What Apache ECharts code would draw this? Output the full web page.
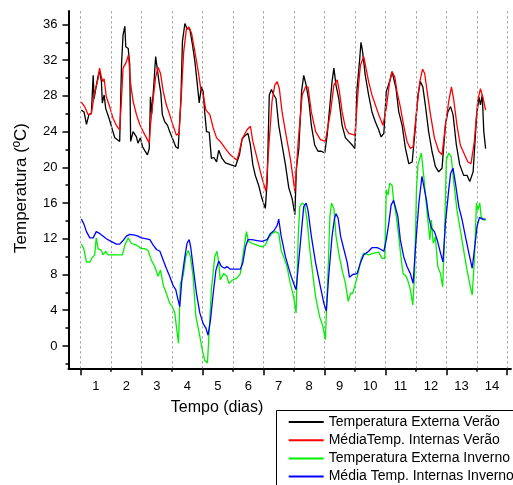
<!DOCTYPE html>
<html>
<head>
<meta charset="utf-8">
<script src="https://cdn.jsdelivr.net/npm/echarts@6/dist/echarts.min.js"></script>
<style>
  html, body { margin: 0; padding: 0; background: #fff; }
  #chart { width: 513px; height: 485px; }
</style>
</head>
<body>
<div id="chart"></div>
<script>
// [dia, temperatura]
var extVerao = [[0.02,26.4],[0.11,26.2],[0.19,24.8],[0.27,25.9],[0.35,26.0],[0.41,30.3],[0.44,27.7],[0.49,28.7],[0.57,30.2],[0.62,30.8],[0.68,29.6],[0.71,27.2],[0.77,28.1],[0.82,26.6],[0.93,25.5],[1.04,24.2],[1.12,23.3],[1.17,23.2],[1.28,22.9],[1.34,31.5],[1.39,34.8],[1.45,35.8],[1.48,33.5],[1.56,33.3],[1.61,31.5],[1.64,22.9],[1.72,24.0],[1.83,23.4],[1.88,22.7],[1.96,23.3],[2.03,22.3],[2.10,21.9],[2.19,21.4],[2.25,22.1],[2.29,27.9],[2.33,26.0],[2.40,29.2],[2.46,32.4],[2.52,32.2],[2.57,29.6],[2.63,28.3],[2.68,25.9],[2.76,25.1],[2.85,24.7],[2.92,24.0],[3.03,23.1],[3.12,22.3],[3.20,22.1],[3.29,27.7],[3.34,34.1],[3.42,36.1],[3.49,35.5],[3.58,35.5],[3.67,33.7],[3.75,31.8],[3.83,29.2],[3.89,27.2],[3.96,29.0],[4.02,28.5],[4.07,26.2],[4.13,24.0],[4.22,23.9],[4.29,21.0],[4.37,21.1],[4.46,20.6],[4.53,21.9],[4.64,21.0],[4.75,20.5],[4.91,20.3],[5.08,20.1],[5.13,19.9],[5.21,21.4],[5.30,23.2],[5.41,23.6],[5.49,23.8],[5.57,22.5],[5.65,20.3],[5.73,19.1],[5.84,18.0],[5.95,16.5],[6.06,15.4],[6.12,18.4],[6.19,28.1],[6.26,28.7],[6.34,28.1],[6.41,27.7],[6.50,24.7],[6.61,22.5],[6.72,20.3],[6.83,17.7],[6.94,16.5],[7.03,14.7],[7.08,19.9],[7.16,22.1],[7.25,28.5],[7.32,30.3],[7.40,29.2],[7.49,27.4],[7.57,24.7],[7.68,22.5],[7.79,21.8],[7.90,21.8],[8.01,21.6],[8.09,23.6],[8.18,27.0],[8.25,29.6],[8.31,31.1],[8.38,29.2],[8.47,27.7],[8.58,24.7],[8.69,23.3],[8.80,22.9],[8.91,22.5],[9.00,22.1],[9.07,28.8],[9.15,31.8],[9.20,34.0],[9.25,33.0],[9.34,30.3],[9.45,28.1],[9.56,26.2],[9.67,25.1],[9.78,24.2],[9.86,23.4],[9.95,23.8],[10.03,28.5],[10.14,29.6],[10.22,30.7],[10.27,30.0],[10.35,28.8],[10.44,26.2],[10.55,24.7],[10.66,22.1],[10.77,20.4],[10.88,20.6],[10.99,24.7],[11.07,28.1],[11.15,29.6],[11.23,29.0],[11.31,27.0],[11.42,24.0],[11.53,21.8],[11.64,20.1],[11.75,19.5],[11.86,19.9],[11.97,24.7],[12.05,26.2],[12.14,26.8],[12.22,25.9],[12.33,22.5],[12.44,20.3],[12.57,19.1],[12.68,19.1],[12.77,18.4],[12.88,19.5],[12.99,25.5],[13.07,27.9],[13.12,27.0],[13.18,28.1],[13.23,24.0],[13.29,22.1]];

var intVerao = [[0.02,27.3],[0.13,26.8],[0.24,25.9],[0.35,26.0],[0.46,28.4],[0.57,29.9],[0.62,31.1],[0.68,30.1],[0.73,29.6],[0.77,29.9],[0.84,27.9],[0.95,26.8],[1.06,25.5],[1.17,24.7],[1.28,24.2],[1.34,27.7],[1.39,31.1],[1.50,31.8],[1.57,32.6],[1.63,29.6],[1.72,27.4],[1.83,25.9],[1.94,24.8],[2.05,24.0],[2.16,23.3],[2.25,22.7],[2.29,24.7],[2.38,27.7],[2.46,30.1],[2.54,31.2],[2.62,30.5],[2.71,28.5],[2.81,27.0],[2.92,25.9],[3.03,24.7],[3.14,23.6],[3.23,23.8],[3.31,28.5],[3.38,32.9],[3.47,35.5],[3.55,35.7],[3.64,35.0],[3.75,32.9],[3.86,30.7],[3.94,28.8],[4.02,28.1],[4.11,26.4],[4.24,25.9],[4.35,24.4],[4.46,23.3],[4.58,22.9],[4.75,22.1],[4.91,21.4],[5.13,20.8],[5.21,21.8],[5.30,23.2],[5.46,24.2],[5.57,24.6],[5.65,22.9],[5.79,21.0],[5.95,18.8],[6.08,17.3],[6.17,22.1],[6.28,27.4],[6.37,29.2],[6.45,29.6],[6.52,28.8],[6.61,26.2],[6.74,23.6],[6.88,21.0],[7.03,17.3],[7.14,22.9],[7.27,28.1],[7.38,29.0],[7.46,29.0],[7.57,26.2],[7.71,24.0],[7.87,23.1],[8.03,22.9],[8.20,26.2],[8.31,29.2],[8.42,29.8],[8.49,28.5],[8.58,26.2],[8.69,24.4],[8.80,23.8],[9.00,23.6],[9.11,28.8],[9.18,31.4],[9.29,32.4],[9.34,32.2],[9.45,29.6],[9.56,28.1],[9.67,27.0],[9.78,25.9],[9.92,24.7],[10.03,26.6],[10.14,29.6],[10.22,30.7],[10.31,30.1],[10.38,28.5],[10.49,26.8],[10.60,24.7],[10.71,22.9],[10.82,22.1],[10.91,22.3],[11.02,26.2],[11.13,29.6],[11.22,31.0],[11.29,30.5],[11.37,28.5],[11.48,25.9],[11.61,23.3],[11.75,21.8],[11.86,21.4],[11.97,24.7],[12.08,27.4],[12.17,29.0],[12.25,27.4],[12.35,24.7],[12.46,22.5],[12.60,21.4],[12.71,20.6],[12.81,20.4],[12.92,22.9],[13.03,27.4],[13.12,28.8],[13.21,27.7],[13.29,26.4]];

var extInverno = [[0.02,11.4],[0.10,10.9],[0.19,9.4],[0.30,9.4],[0.38,9.9],[0.46,10.2],[0.51,12.1],[0.57,10.9],[0.68,10.7],[0.73,10.2],[0.82,10.6],[0.90,10.2],[1.06,10.2],[1.23,10.2],[1.37,10.2],[1.45,11.3],[1.56,12.1],[1.66,11.5],[1.83,11.3],[1.99,10.9],[2.10,10.9],[2.21,10.7],[2.32,9.6],[2.43,8.9],[2.54,7.8],[2.62,8.5],[2.71,6.8],[2.81,5.9],[2.92,4.8],[3.01,4.4],[3.09,3.7],[3.14,2.2],[3.21,0.3],[3.27,7.0],[3.36,7.8],[3.45,10.0],[3.53,10.7],[3.60,10.0],[3.69,7.8],[3.78,3.3],[3.91,1.1],[4.00,-0.6],[4.07,-1.6],[4.16,-1.9],[4.22,1.8],[4.29,6.3],[4.40,10.0],[4.47,10.6],[4.53,9.4],[4.58,7.4],[4.69,8.1],[4.80,7.8],[4.86,7.0],[4.99,7.4],[5.13,7.6],[5.24,8.1],[5.35,10.7],[5.44,12.8],[5.51,11.7],[5.62,11.5],[5.79,11.3],[5.95,11.1],[6.06,11.3],[6.17,12.1],[6.28,12.6],[6.39,12.8],[6.50,12.6],[6.58,10.7],[6.66,10.0],[6.77,8.9],[6.88,7.0],[6.99,5.5],[7.07,3.7],[7.14,12.3],[7.19,15.6],[7.27,16.0],[7.35,15.8],[7.43,14.1],[7.51,11.1],[7.60,8.5],[7.71,5.5],[7.84,3.3],[7.95,2.2],[8.03,0.7],[8.12,8.5],[8.18,14.5],[8.23,16.0],[8.31,15.4],[8.38,12.3],[8.47,10.4],[8.58,8.5],[8.69,7.0],[8.78,5.0],[8.86,5.9],[8.93,5.9],[9.02,7.0],[9.13,8.5],[9.20,9.7],[9.29,10.4],[9.45,10.2],[9.62,10.4],[9.78,10.5],[9.89,9.8],[9.98,9.8],[10.03,17.5],[10.09,16.9],[10.14,18.2],[10.22,18.0],[10.27,16.3],[10.36,14.5],[10.44,12.2],[10.51,10.0],[10.58,8.1],[10.66,7.9],[10.73,7.4],[10.82,6.3],[10.90,4.6],[10.96,8.1],[11.02,17.5],[11.07,20.3],[11.13,20.5],[11.18,21.6],[11.26,19.0],[11.37,14.9],[11.46,11.9],[11.51,14.1],[11.57,11.5],[11.64,12.2],[11.72,8.9],[11.81,8.1],[11.88,6.6],[11.94,11.9],[12.00,20.8],[12.08,21.6],[12.16,21.2],[12.25,18.2],[12.35,15.2],[12.46,13.0],[12.57,10.7],[12.68,8.5],[12.79,6.6],[12.85,5.7],[12.92,9.6],[12.99,16.0],[13.03,15.2],[13.10,16.0],[13.14,14.5],[13.23,14.1],[13.29,14.1]];

var intInverno = [[0.02,14.2],[0.10,13.7],[0.19,12.8],[0.30,12.1],[0.41,12.1],[0.51,12.8],[0.62,12.6],[0.73,12.3],[0.84,12.0],[0.95,11.8],[1.06,11.6],[1.17,11.4],[1.28,11.4],[1.39,11.8],[1.50,12.3],[1.61,12.5],[1.77,12.4],[1.88,12.3],[1.99,12.1],[2.16,12.0],[2.27,11.9],[2.38,11.3],[2.49,10.8],[2.60,10.6],[2.71,9.6],[2.81,8.7],[2.92,7.8],[3.03,6.8],[3.12,6.3],[3.20,5.1],[3.25,4.4],[3.33,7.8],[3.42,10.0],[3.49,11.5],[3.56,11.9],[3.61,11.1],[3.69,8.9],[3.80,5.9],[3.91,3.7],[4.02,2.5],[4.11,2.0],[4.18,1.2],[4.26,2.9],[4.35,5.9],[4.44,8.5],[4.53,9.5],[4.62,8.9],[4.73,8.7],[4.80,8.9],[4.91,8.6],[5.08,8.6],[5.24,8.6],[5.32,9.3],[5.41,11.1],[5.49,11.9],[5.62,11.9],[5.79,11.8],[5.95,11.7],[6.12,11.9],[6.23,12.6],[6.34,12.9],[6.45,13.5],[6.50,14.2],[6.58,12.3],[6.72,10.0],[6.88,8.1],[6.99,7.0],[7.07,6.3],[7.16,9.6],[7.25,13.0],[7.32,15.6],[7.40,16.0],[7.46,15.2],[7.57,12.3],[7.71,9.3],[7.87,6.6],[7.98,4.8],[8.06,3.9],[8.14,7.8],[8.25,12.3],[8.33,14.3],[8.38,14.8],[8.45,14.3],[8.53,12.3],[8.64,10.8],[8.75,9.3],[8.82,7.7],[8.93,8.0],[9.07,8.1],[9.18,9.3],[9.29,10.2],[9.45,10.6],[9.56,11.0],[9.73,11.0],[9.86,10.8],[9.95,10.6],[10.03,11.9],[10.11,13.7],[10.19,15.8],[10.27,16.3],[10.33,16.5],[10.41,14.5],[10.49,11.9],[10.60,10.0],[10.71,8.9],[10.82,8.1],[10.91,7.0],[10.99,11.1],[11.10,16.0],[11.20,19.0],[11.26,18.8],[11.35,16.3],[11.42,14.5],[11.51,13.2],[11.61,12.8],[11.70,11.9],[11.81,10.4],[11.89,9.4],[11.97,13.7],[12.08,17.5],[12.14,19.3],[12.22,19.9],[12.30,18.2],[12.41,15.6],[12.52,14.1],[12.63,12.2],[12.74,10.4],[12.85,8.7],[12.92,10.7],[13.01,13.4],[13.09,14.4],[13.18,14.2],[13.29,14.2]];

var nomes = ['Temperatura Externa Verão', 'MédiaTemp. Internas Verão', 'Temperatura Externa Inverno', 'Média Temp. Internas Inverno'];
var cores = ['#000000', '#ff0000', '#00f000', '#0000ff'];
var dias = [1, 2, 3, 4, 5, 6, 7, 8, 9, 10, 11, 12, 13, 14];
var limitesDia = [0, 1, 2, 3, 4, 5, 6, 7, 8, 9, 10, 11, 12, 13, 14];
var yMaiores = [0, 4, 8, 12, 16, 20, 24, 28, 32, 36];
var yMenores = [-2, 2, 6, 10, 14, 18, 22, 26, 30, 34];

var fonte = '"Liberation Sans", Arial, sans-serif';

var series = [extVerao, intVerao, extInverno, intInverno].map(function (d, i) {
    return {
        name: nomes[i],
        type: 'line',
        data: d,
        symbol: 'none',
        lineStyle: { color: cores[i], width: 1.3 },
        itemStyle: { color: cores[i] },
        z: 3 + i
    };
});
// linhas pontilhadas entre os dias
series[0].markLine = {
    silent: true,
    symbol: 'none',
    label: { show: false },
    lineStyle: { color: '#999', type: [2, 3], width: 1 },
    data: limitesDia.map(function (v) { return { xAxis: v }; })
};

var option = {
    animation: false,
    backgroundColor: '#fff',
    grid: { left: 68.5, top: 11, width: 442.4, height: 357.3 },
    xAxis: [{
        type: 'value', min: -0.4, max: 14.12, position: 'bottom',
        axisLine: { show: true, onZero: false, lineStyle: { color: '#000', width: 2 } },
        axisTick: { show: true, customValues: limitesDia.filter(function (v) { return v % 2 === 0; }), length: 7, lineStyle: { color: '#000', width: 1.5 } },
        axisLabel: {
            customValues: dias.map(function (d) { return d - 0.5; }),
            formatter: function (v) { return String(Math.round(v + 0.5)); },
            margin: 12, color: '#000', fontSize: 13, fontFamily: fonte
        },
        splitLine: { show: false }
    }, {
        type: 'value', min: -0.4, max: 14.12, position: 'bottom',
        axisLine: { show: false, onZero: false },
        axisTick: { show: true, customValues: limitesDia.filter(function (v) { return v % 2 === 1; }), length: 3.5, lineStyle: { color: '#000', width: 1.5 } },
        axisLabel: { show: false },
        splitLine: { show: false }
    }],
    yAxis: [{
        type: 'value', min: -2.5, max: 37.5, position: 'left',
        axisLine: { show: true, onZero: false, lineStyle: { color: '#000', width: 2 } },
        axisTick: { show: true, customValues: yMaiores, length: 6, lineStyle: { color: '#000', width: 1.5 } },
        axisLabel: { customValues: yMaiores, margin: 11, color: '#000', fontSize: 13, fontFamily: fonte },
        splitLine: { show: false }
    }, {
        type: 'value', min: -2.5, max: 37.5, position: 'left',
        axisLine: { show: false, onZero: false },
        axisTick: { show: true, customValues: yMenores, length: 3, lineStyle: { color: '#000', width: 1.5 } },
        axisLabel: { show: false },
        splitLine: { show: false }
    }],
    legend: {
        orient: 'vertical',
        left: 287.7, top: 415,
        padding: 0,
        itemWidth: 35, itemHeight: 14, itemGap: 4.2,
        itemStyle: { opacity: 0 },
        textStyle: { color: '#000', fontSize: 14, fontFamily: fonte },
        data: nomes
    },
    graphic: [{
        type: 'rect', silent: true,
        shape: { x: 276.5, y: 410.5, width: 260, height: 100 },
        style: { fill: 'none', stroke: '#000', lineWidth: 1 }
    }, {
        type: 'text', x: 21, y: 188, rotation: Math.PI / 2,
        style: { text: 'Temperatura (ºC)', font: '17px "Liberation Sans", Arial, sans-serif', fill: '#000', align: 'center', verticalAlign: 'middle' }
    }, {
        type: 'text', x: 217, y: 408,
        style: { text: 'Tempo (dias)', font: '16px "Liberation Sans", Arial, sans-serif', fill: '#000', align: 'center', verticalAlign: 'middle' }
    }],
    series: series
};

var chart = echarts.init(document.getElementById('chart'), null, { renderer: 'canvas' });
chart.setOption(option);
</script>
</body>
</html>
